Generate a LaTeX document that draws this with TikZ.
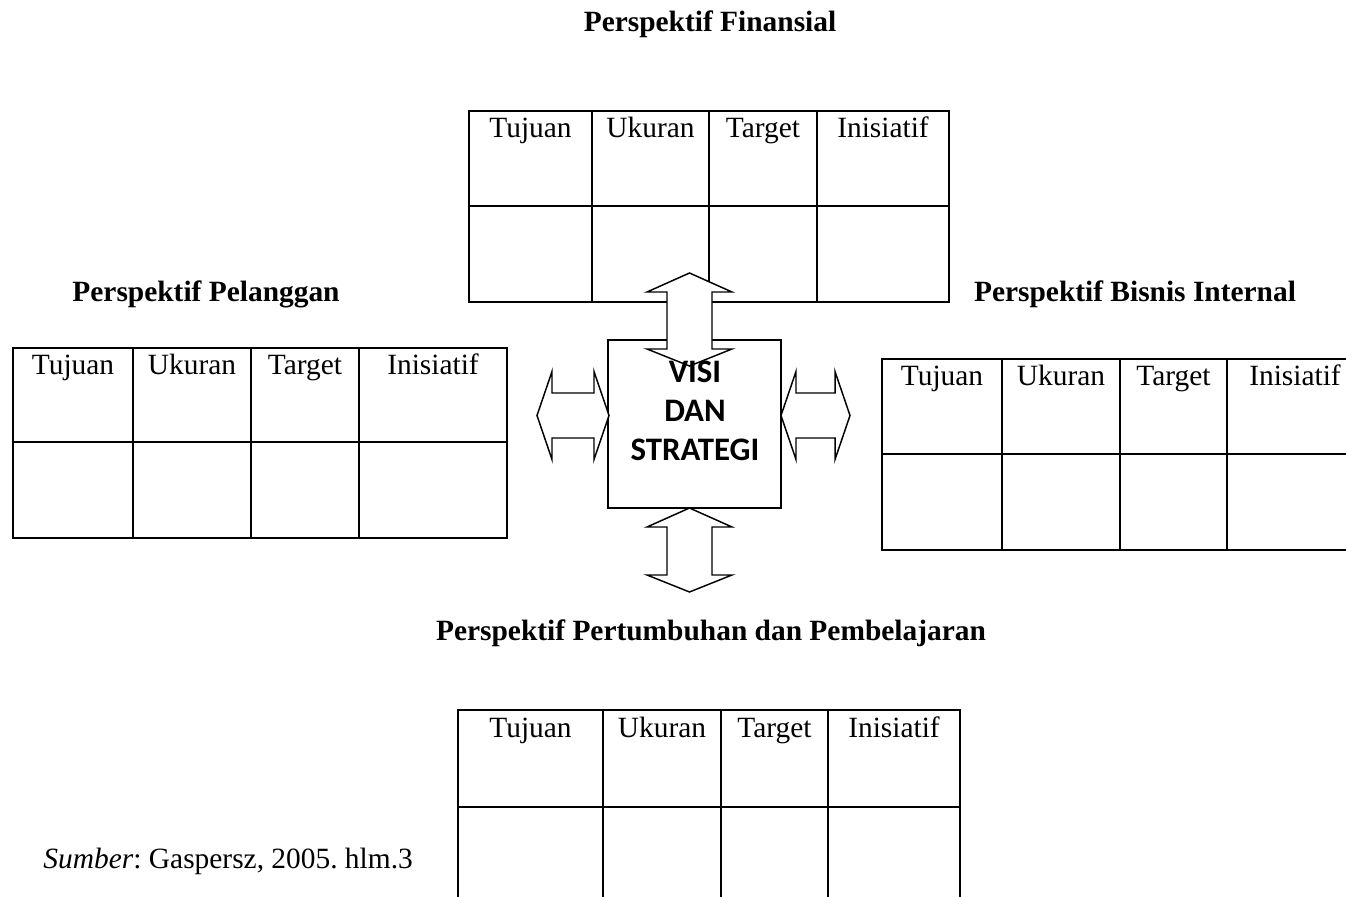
\documentclass[tikz,border=0pt]{standalone}
\usepackage{fontspec}
\setmainfont{Liberation Serif}
\newfontfamily\calibri{Carlito}
\usetikzlibrary{positioning}
\frenchspacing
\tikzset{
  head/.style={anchor=base, inner sep=0pt, font=\fontsize{12}{14}\selectfont},
  ptitle/.style={anchor=base, inner sep=0pt, font=\fontsize{12}{14}\selectfont\bfseries},
  grid/.style={line width=0.7pt},
  dblarrow/.style={draw, fill=white, line width=0.6pt, line join=miter},
  visibox/.style={draw, line width=0.7pt, minimum width=70.6pt, minimum height=68.5pt, inner sep=0pt},
}
% column heads of one table: prefix, four x centres, baseline
\newcommand{\bscheads}[6]{%
  \node[head] (#1-tujuan) at (#2,#6) {Tujuan};
  \node[head] (#1-ukuran) at (#3,#6) {Ukuran};
  \node[head] (#1-target) at (#4,#6) {Target};
  \node[head] (#1-inisiatif) at (#5,#6) {Inisiatif};}
% vertical double arrow: x centre, top tip, bottom tip
\newcommand{\varrow}[3]{\filldraw[dblarrow] (#1,#2) -- ++(42.5,19) -- ++(-20,0) -- (#1+22.5,#3-17) -- ++(20,0) -- (#1,#3) -- ++(-42.5,-17) -- ++(20,0) -- (#1-22.5,#2+19) -- ++(-20,0) -- cycle;}
% horizontal double arrow: y centre, left tip, right tip
\newcommand{\harrow}[3]{\filldraw[dblarrow] (#2,#1) -- ++(15,-44) -- ++(0,21.5) -- (#3-15,#1-22.5) -- ++(0,-21.5) -- (#3,#1) -- ++(-15,44) -- ++(0,-21.5) -- (#2+15,#1+22.5) -- ++(0,21.5) -- cycle;}

\begin{document}
\begin{tikzpicture}[x=0.408pt, y=-0.408pt]
\useasboundingbox (0,0) rectangle (1346,897);
% titles
\node[ptitle] (fin) at (710,32) {Perspektif Finansial};
\node[ptitle] (pel) at (206,302) {Perspektif Pelanggan};
\node[ptitle] (bis) at (1135,302) {Perspektif Bisnis Internal};
\node[ptitle] (tum) at (711,640) {Perspektif Pertumbuhan dan Pembelajaran};
\node[head, anchor=base west] (sumber) at (43,868) {\textit{Sumber}: Gaspersz, 2005. hlm.3};
% financial table
\draw[grid] (469,111) rectangle (949,302);
\draw[grid] (469,206) -- (949,206);
\foreach \x in {592,709,817} \draw[grid] (\x,111) -- (\x,302);
\bscheads{fin}{530.5}{650.5}{763}{883}{138}
% customer table
\draw[grid] (13,348) rectangle (507,538);
\draw[grid] (13,442) -- (507,442);
\foreach \x in {133,251,359} \draw[grid] (\x,348) -- (\x,538);
\bscheads{pel}{73}{192}{305}{433}{375}
% internal business table (cut at the right)
\draw[grid] (1346,359) -- (882,359) -- (882,550) -- (1346,550);
\draw[grid] (882,454) -- (1346,454);
\foreach \x in {1002,1120,1227} \draw[grid] (\x,359) -- (\x,550);
\bscheads{bis}{942}{1061}{1173.5}{1295}{386}
% growth table (cut at the bottom)
\draw[grid] (458,897) -- (458,710) -- (960,710) -- (960,897);
\draw[grid] (458,807) -- (960,807);
\foreach \x in {603,721,828} \draw[grid] (\x,710) -- (\x,897);
\bscheads{tum}{530.5}{662}{774.5}{894}{737}
% centre
\node[visibox] (visi) at (694.5,424) {};
\varrow{689.5}{273}{366}
\varrow{689.5}{508}{592}
\harrow{415.5}{537}{609}
\harrow{415.5}{781}{850}
\node[inner sep=0pt, align=center, font=\calibri\fontsize{13.4}{15.9}\selectfont\bfseries] (visitext) at (695,410.7) {VISI\\DAN\\STRATEGI};
\end{tikzpicture}
\end{document}
